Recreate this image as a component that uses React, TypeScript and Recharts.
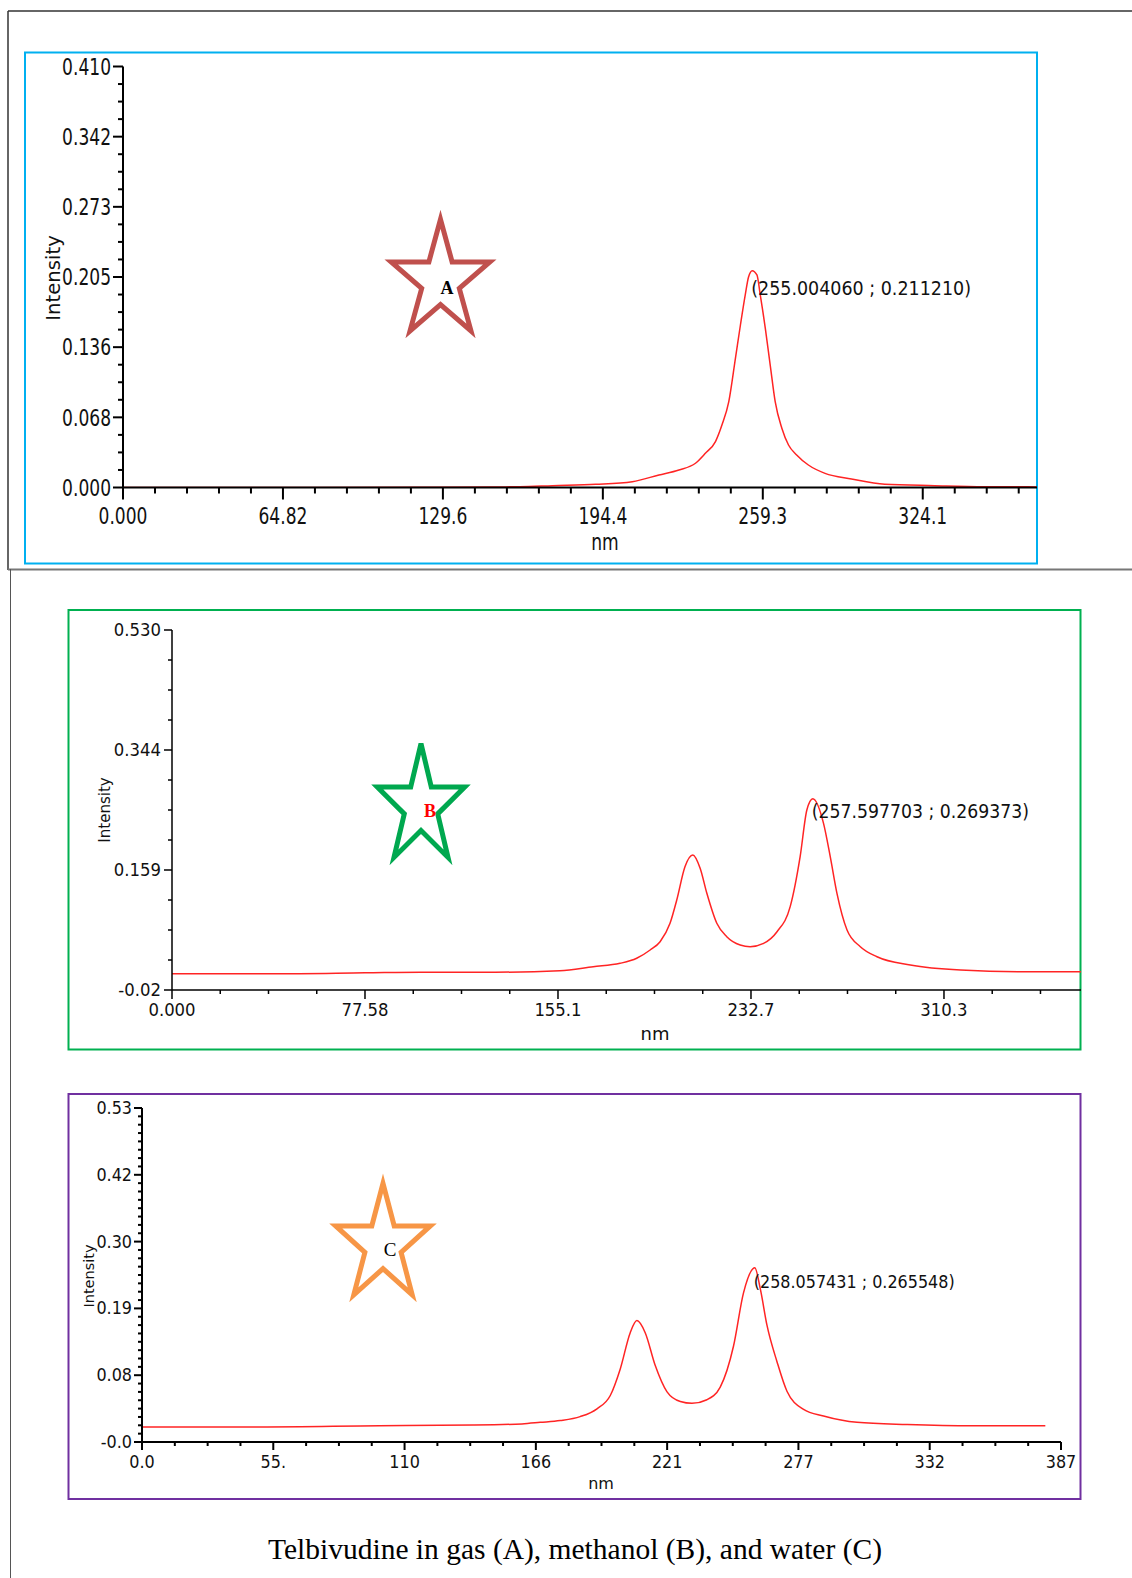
import React from 'react';
import { LineChart, Line, XAxis, YAxis, ReferenceDot } from 'recharts';

// spectrum A (gas)
const nmA = [0, 40, 80, 120, 150, 160.7, 174.1, 191.6, 206.4, 217.2, 225.3, 232.0, 236.0, 240.1, 242.75, 245.5, 248.2, 250.2, 252.2, 253.5, 255.0, 256.9, 258.25, 260.3, 262.3, 264.3, 267.0, 269.7, 273.0, 277.75, 284.5, 295.2, 308.7, 328.9, 349.1, 370.4];
const intensityA = [0, 0, 0, 0.0002, 0.0005, 0.0008, 0.0018, 0.0031, 0.0057, 0.0122, 0.0171, 0.0236, 0.0333, 0.0447, 0.061, 0.0836, 0.126, 0.158, 0.188, 0.205, 0.2112, 0.207, 0.1876, 0.155, 0.119, 0.0836, 0.0577, 0.0414, 0.0317, 0.0219, 0.0138, 0.0083, 0.0031, 0.0018, 0.0008, 0.0006];

// spectrum B (methanol)
const nmB = [0, 40, 77.6, 100, 130, 155.9, 169.3, 180.1, 186.8, 192.2, 196.2, 200.2, 202.9, 206.2, 209.35, 212.3, 215.0, 219.0, 223.0, 228.4, 232.4, 237.8, 243.2, 248.5, 252.5, 255.2, 257.6, 261.9, 264.6, 267.3, 271.35, 276.7, 283.4, 296.8, 317.0, 343.8, 365.4];
const intensityB = [-0.001, -0.001, 0.0005, 0.0015, 0.0015, 0.0038, 0.010, 0.0152, 0.023, 0.0358, 0.0486, 0.077, 0.113, 0.1644, 0.1825, 0.162, 0.1233, 0.077, 0.0563, 0.0435, 0.0409, 0.046, 0.064, 0.1027, 0.180, 0.252, 0.2694, 0.2314, 0.180, 0.1233, 0.0667, 0.0409, 0.0254, 0.0126, 0.0049, 0.0023, 0.0023];

// spectrum C (water)
const nmC = [0, 50, 100, 139.5, 160, 167.7, 176.1, 184.5, 191.6, 197.2, 201.4, 205.6, 208.4, 211.9, 216.1, 221.1, 226.7, 231.6, 237.9, 243.5, 249.1, 253.3, 258.06, 260.4, 263.2, 267.4, 271.6, 278.6, 287.0, 301.1, 322.2, 350.2, 380.4];
const intensityC = [0.002, 0.002, 0.004, 0.005, 0.007, 0.0095, 0.0125, 0.019, 0.032, 0.054, 0.098, 0.158, 0.178, 0.158, 0.104, 0.06, 0.044, 0.041, 0.047, 0.068, 0.136, 0.224, 0.2655, 0.23, 0.17, 0.11, 0.061, 0.031, 0.02, 0.0095, 0.006, 0.004, 0.004];

// peak annotations
const peakA = { nm: 255.00406, value: 0.21121, text: '(255.004060 ; 0.211210)' };
const peakB = { nm: 257.597703, value: 0.269373, text: '(257.597703 ; 0.269373)' };
const peakC = { nm: 258.057431, value: 0.265548, text: '(258.057431 ; 0.265548)' };

// axis tick labels
const xLabelsA = ['0.000', '64.82', '129.6', '194.4', '259.3', '324.1'];
const yLabelsA = ['0.000', '0.068', '0.136', '0.205', '0.273', '0.342', '0.410'];
const xLabelsB = ['0.000', '77.58', '155.1', '232.7', '310.3'];
const yLabelsB = ['-0.02', '0.159', '0.344', '0.530'];
const xLabelsC = ['0.0', '55.', '110', '166', '221', '277', '332', '387'];
const yLabelsC = ['-0.0', '0.08', '0.19', '0.30', '0.42', '0.53'];

type AxisSpec = { start: number; step: number; sub: number; max: number; labels: string[] };
type TickStyle = { major: number; minor: number; w: number; offset: number; font: string; size: number; sy: number };

const toRows = (xs: number[], ys: number[]) => xs.map((x, i) => ({ nm: x, v: ys[i] }));

const buildTicks = (a: AxisSpec) => {
  const out: number[] = [];
  const minor = a.step / a.sub;
  for (let i = 0; a.start + i * minor <= a.max + minor * 0.01; i++) out.push(a.start + i * minor);
  return out;
};

const tickInfo = (a: AxisSpec, value: number) => {
  const i = Math.round((value - a.start) / (a.step / a.sub));
  const major = i % a.sub === 0;
  return { major, label: major ? a.labels[i / a.sub] : undefined };
};

// text that can be stretched vertically (panel A uses a tall narrow face)
const Label = ({ x, y, anchor, font, size, sy, children }: any) => (
  <text
    transform={`translate(${x},${y}) scale(1,${sy})`}
    textAnchor={anchor}
    fontFamily={font}
    fontSize={size}
    fill="#111"
  >
    {children}
  </text>
);

const xTick = (a: AxisSpec, st: TickStyle) => (props: any) => {
  const { x, y, payload } = props;
  const { major, label } = tickInfo(a, payload.value);
  return (
    <g>
      <line x1={x} y1={y} x2={x} y2={y + (major ? st.major : st.minor)} stroke="#000" strokeWidth={st.w} />
      {label && (
        <Label x={x} y={y + st.offset} anchor="middle" font={st.font} size={st.size} sy={st.sy}>
          {label}
        </Label>
      )}
    </g>
  );
};

const yTick = (a: AxisSpec, st: TickStyle) => (props: any) => {
  const { x, y, payload } = props;
  const { major, label } = tickInfo(a, payload.value);
  return (
    <g>
      <line x1={x} y1={y} x2={x - (major ? st.major : st.minor)} y2={y} stroke="#000" strokeWidth={st.w} />
      {label && (
        <Label x={x - st.offset} y={y + st.size * 0.36 * st.sy} anchor="end" font={st.font} size={st.size} sy={st.sy}>
          {label}
        </Label>
      )}
    </g>
  );
};

interface PanelProps {
  left: number;
  top: number;
  width: number;
  height: number;
  margin: { top: number; right: number; bottom: number; left: number };
  yWidth: number;
  xHeight: number;
  rows: { nm: number; v: number }[];
  xSpec: AxisSpec;
  ySpec: AxisSpec;
  xStyle: TickStyle;
  yStyle: TickStyle;
  axisW: number;
  peak: { nm: number; value: number; text: string };
  peakFont: number;
  peakSy: number;
  peakDy: number;
}

const Spectrum: React.FC<PanelProps> = (p) => (
  <div style={{ position: 'absolute', left: p.left, top: p.top }}>
    <LineChart width={p.width} height={p.height} data={p.rows} margin={p.margin}>
      <XAxis
        dataKey="nm"
        type="number"
        domain={[p.xSpec.start, p.xSpec.max]}
        ticks={buildTicks(p.xSpec)}
        interval={0}
        allowDataOverflow
        height={p.xHeight}
        tickSize={0}
        tickMargin={0}
        tickLine={false}
        axisLine={{ stroke: '#000', strokeWidth: p.axisW }}
        tick={xTick(p.xSpec, p.xStyle)}
      />
      <YAxis
        type="number"
        domain={[p.ySpec.start, p.ySpec.max]}
        ticks={buildTicks(p.ySpec)}
        interval={0}
        allowDataOverflow
        width={p.yWidth}
        tickSize={0}
        tickMargin={0}
        tickLine={false}
        axisLine={{ stroke: '#000', strokeWidth: p.axisW }}
        tick={yTick(p.ySpec, p.yStyle)}
      />
      <Line type="monotone" dataKey="v" stroke="#ff2424" strokeWidth={1.5} dot={false} isAnimationActive={false} />
      <ReferenceDot
        x={p.peak.nm}
        y={p.peak.value}
        r={0}
        shape={(s: any) => (
          <Label x={s.cx - 1} y={s.cy + p.peakDy} anchor="start" font="DejaVu Sans" size={p.peakFont} sy={p.peakSy}>
            {p.peak.text}
          </Label>
        )}
      />
    </LineChart>
  </div>
);

const starPoints = (cx: number, cy: number, R: number, sx: number) => {
  const pts: string[] = [];
  for (let i = 0; i < 10; i++) {
    const r = i % 2 === 0 ? R : R * 0.382;
    const a = (Math.PI / 5) * i;
    pts.push(`${(cx + Math.sin(a) * r * sx).toFixed(1)},${(cy - Math.cos(a) * r).toFixed(1)}`);
  }
  return pts.join(' ');
};

const App: React.FC = () => (
  <div style={{ position: 'absolute', left: 0, top: 0, width: 1132, height: 1578, background: '#fff' }}>
    <svg width={1132} height={1578} style={{ position: 'absolute', left: 0, top: 0 }}>
      {/* outer frame */}
      <line x1={8} y1={11} x2={1132} y2={11} stroke="#333" strokeWidth={1.5} />
      <line x1={8} y1={11} x2={8} y2={570} stroke="#333" strokeWidth={1.5} />
      <line x1={8} y1={569.5} x2={1132} y2={569.5} stroke="#777" strokeWidth={2} />
      <line x1={10.5} y1={569} x2={10.5} y2={1578} stroke="#555" strokeWidth={1} />
      {/* panel boxes */}
      <rect x={25} y={52.5} width={1012} height={511} fill="none" stroke="#00b0f0" strokeWidth={2} />
      <rect x={68.5} y={610} width={1012} height={439.5} fill="none" stroke="#00b050" strokeWidth={2} />
      <rect x={68.5} y={1094} width={1012} height={405} fill="none" stroke="#7030a0" strokeWidth={2} />
      {/* stars */}
      <polygon points={starPoints(440.5, 281, 61.7, 0.84)} fill="none" stroke="#c0504d" strokeWidth={5} />
      <text x={447} y={294} textAnchor="middle" fontFamily="Liberation Serif" fontWeight="bold" fontSize={18} fill="#000">A</text>
      <polygon points={starPoints(421, 806.5, 62.9, 0.73)} fill="none" stroke="#00a84f" strokeWidth={5} />
      <text x={430} y={817} textAnchor="middle" fontFamily="Liberation Serif" fontWeight="bold" fontSize={18} fill="#ff0000">B</text>
      <polygon points={starPoints(383, 1245, 61.7, 0.806)} fill="none" stroke="#f79646" strokeWidth={5} />
      <text x={390} y={1256} textAnchor="middle" fontFamily="Liberation Serif" fontSize={19} fill="#000">C</text>
      {/* axis titles */}
      <text transform="translate(60,278) rotate(-90) scale(1.15,1)" textAnchor="middle" fontFamily="DejaVu Sans Condensed" fontSize={19} fill="#111">Intensity</text>
      <text transform="translate(605,550) scale(1,1.2)" textAnchor="middle" fontFamily="DejaVu Sans Condensed" fontSize={19} fill="#111">nm</text>
      <text transform="translate(110,810) rotate(-90)" textAnchor="middle" fontFamily="DejaVu Sans" fontSize={15} fill="#111">Intensity</text>
      <text x={655} y={1040} textAnchor="middle" fontFamily="DejaVu Sans" fontSize={18} fill="#111">nm</text>
      <text transform="translate(94,1276) rotate(-90)" textAnchor="middle" fontFamily="DejaVu Sans" fontSize={14.5} fill="#111">Intensity</text>
      <text x={601} y={1489} textAnchor="middle" fontFamily="DejaVu Sans" fontSize={16} fill="#111">nm</text>
      {/* caption */}
      <text x={575} y={1559} textAnchor="middle" fontFamily="Liberation Serif" fontSize={29.5} fill="#000">
        Telbivudine in gas (A), methanol (B), and water (C)
      </text>
    </svg>

    <Spectrum
      left={25}
      top={52}
      width={1012}
      height={511}
      margin={{ top: 14.5, right: 0, bottom: 0, left: 0 }}
      yWidth={98}
      xHeight={75.5}
      rows={toRows(nmA, intensityA)}
      xSpec={{ start: 0, step: 64.82, sub: 5, max: 370.4, labels: xLabelsA }}
      ySpec={{ start: 0, step: 0.41 / 6, sub: 4, max: 0.41, labels: yLabelsA }}
      xStyle={{ major: 12, minor: 6, w: 2, offset: 36, font: 'DejaVu Sans Condensed', size: 19, sy: 1.2 }}
      yStyle={{ major: 10, minor: 5, w: 2, offset: 12, font: 'DejaVu Sans Condensed', size: 19, sy: 1.2 }}
      axisW={2}
      peak={peakA}
      peakFont={17.5}
      peakSy={1.1}
      peakDy={24}
    />

    <Spectrum
      left={68}
      top={610}
      width={1013}
      height={440}
      margin={{ top: 20, right: 0, bottom: 0, left: 0 }}
      yWidth={104}
      xHeight={60}
      rows={toRows(nmB, intensityB)}
      xSpec={{ start: 0, step: 77.58, sub: 4, max: 365.4, labels: xLabelsB }}
      ySpec={{ start: -0.026, step: 0.556 / 3, sub: 4, max: 0.53, labels: yLabelsB }}
      xStyle={{ major: 9, minor: 4, w: 1.5, offset: 26, font: 'DejaVu Sans', size: 16.5, sy: 1.05 }}
      yStyle={{ major: 8, minor: 4, w: 1.5, offset: 11, font: 'DejaVu Sans', size: 16.5, sy: 1.05 }}
      axisW={1.5}
      peak={peakB}
      peakFont={17.3}
      peakSy={1.1}
      peakDy={19}
    />

    <Spectrum
      left={68}
      top={1094}
      width={1013}
      height={405}
      margin={{ top: 14, right: 20, bottom: 0, left: 0 }}
      yWidth={74}
      xHeight={57}
      rows={toRows(nmC, intensityC)}
      xSpec={{ start: 0, step: 387 / 7, sub: 4, max: 387, labels: xLabelsC }}
      ySpec={{ start: -0.023, step: 0.553 / 5, sub: 8, max: 0.53, labels: yLabelsC }}
      xStyle={{ major: 8, minor: 4, w: 2, offset: 26, font: 'DejaVu Sans', size: 16, sy: 1.05 }}
      yStyle={{ major: 8, minor: 4, w: 2, offset: 10, font: 'DejaVu Sans', size: 16, sy: 1.05 }}
      axisW={2}
      peak={peakC}
      peakFont={16}
      peakSy={1.1}
      peakDy={20}
    />
  </div>
);

export default App;
